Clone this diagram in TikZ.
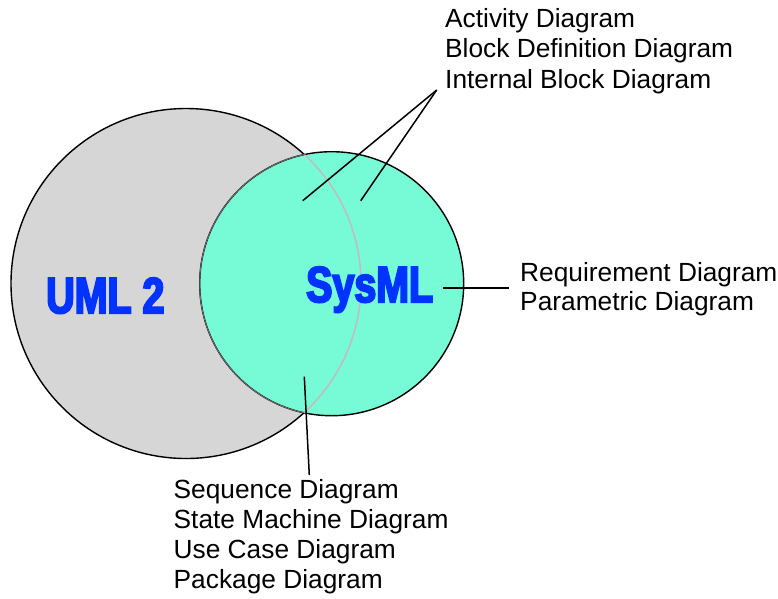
\documentclass[tikz,border=0pt]{standalone}
\usepackage{fontspec}
\setmainfont{Liberation Sans}
\newfontfamily\heavyfont[FakeStretch=0.78,FakeBold=4]{Liberation Sans Bold}

\definecolor{umlgray}{RGB}{214,214,214}
\definecolor{sysgreen}{RGB}{118,251,214}
\definecolor{titleblue}{RGB}{0,51,255}
\definecolor{seamgray}{RGB}{190,190,190}
\definecolor{innerrim}{RGB}{110,110,110}

\tikzset{
  rim/.style={draw=black, line width=1.4pt},
  leader/.style={draw=black, line width=1.5pt},
  label/.style={anchor=base west, inner sep=0pt, font=\fontsize{26.3}{30}\selectfont},
  title/.style={anchor=base west, inner sep=0pt, text=titleblue, font=\heavyfont\fontsize{50.5}{50}\selectfont},
}

\begin{document}
\begin{tikzpicture}[x=1pt,y=-1pt]
  \useasboundingbox (0,0) rectangle (778,598);

  % the two sets
  \coordinate (umlc) at (186,283.5);
  \coordinate (sysc) at (331.7,283.7);
  \path[fill=umlgray, rim] (umlc) circle[radius=175pt];
  \path[fill=sysgreen, rim] (sysc) circle[radius=132pt];

  % the rims where the circles overlap
  \begin{scope}
    \clip (sysc) circle[radius=132pt];
    \draw[seamgray, line width=1.6pt] (umlc) circle[radius=175pt];
  \end{scope}
  \begin{scope}
    \clip (umlc) circle[radius=175pt];
    \draw[innerrim, line width=0.9pt] (sysc) circle[radius=132pt];
  \end{scope}

  % set names
  \node[title] (uml) at (46,313) {UML 2};
  \node[title] (sysml) at (306,302) {SysML};

  % diagram kinds shared by both sets
  \node[label] (act) at (445,27) {Activity Diagram};
  \node[label] (bdd) at (445,57.5) {Block Definition Diagram};
  \node[label] (ibd) at (445,88) {Internal Block Diagram};

  % diagram kinds only in SysML
  \node[label] (req) at (520,281) {Requirement Diagram};
  \node[label] (par) at (520,310.5) {Parametric Diagram};

  % diagram kinds taken over from UML 2
  \node[label] (seq) at (173.5,498.5) {Sequence Diagram};
  \node[label] (stm) at (173.5,528.5) {State Machine Diagram};
  \node[label] (uc)  at (173.5,558.5) {Use Case Diagram};
  \node[label] (pkg) at (173.5,588.5) {Package Diagram};

  % leader lines
  \coordinate (apex) at (436.7,90);
  \coordinate (shared) at (302.7,200.7);
  \coordinate (extended) at (360.7,200.7);
  \coordinate (onlyin) at (443.3,288);
  \coordinate (onlyout) at (509,288);
  \coordinate (reusedin) at (304.3,376.7);
  \coordinate (reusedout) at (309.3,475);

  \draw[leader] (apex) -- (shared);
  \draw[leader] (apex) -- (extended);
  \draw[leader] (onlyin) -- (onlyout);
  \draw[leader] (reusedin) -- (reusedout);
\end{tikzpicture}
\end{document}
